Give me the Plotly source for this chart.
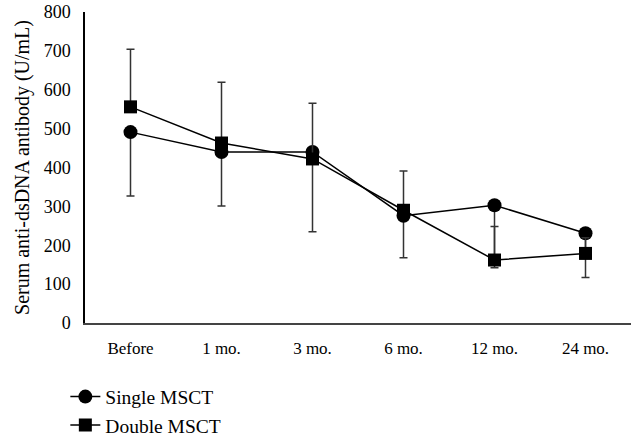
import plotly.graph_objects as go

categories = ["Before", "1 mo.", "3 mo.", "6 mo.", "12 mo.", "24 mo."]
single_vals = [491, 440, 440, 276, 303, 231]
single_err_minus = [164, 139, 205, 108, 161, 114]
double_vals = [556, 463, 422, 290, 162, 179]
double_err_plus = [148, 156, 143, 101, 86, 40]
zeros = [0, 0, 0, 0, 0, 0]

FONT = "Liberation Serif"

fig = go.Figure()
fig.add_trace(go.Scatter(
    x=categories, y=single_vals, name="Single MSCT", mode="lines+markers",
    line=dict(color="black", width=1.5),
    marker=dict(symbol="circle", size=14, color="black"),
    error_y=dict(type="data", symmetric=False, array=zeros, arrayminus=single_err_minus,
                 color="#333333", thickness=1.5, width=4),
))
fig.add_trace(go.Scatter(
    x=categories, y=double_vals, name="Double MSCT", mode="lines+markers",
    line=dict(color="black", width=1.5),
    marker=dict(symbol="square", size=13, color="black"),
    error_y=dict(type="data", symmetric=False, array=double_err_plus, arrayminus=zeros,
                 color="#333333", thickness=1.5, width=4),
))

fig.update_layout(
    width=633, height=444,
    margin=dict(l=85, r=2, t=12, b=121, autoexpand=False),
    paper_bgcolor="white", plot_bgcolor="white",
    font=dict(family=FONT, size=17, color="black"),
    showlegend=True,
    legend=dict(x=-0.036, y=-0.175, xanchor="left", yanchor="top",
                font=dict(family=FONT, size=19.5, color="black"),
                tracegroupgap=0, itemwidth=30, bgcolor="rgba(0,0,0,0)"),
    xaxis=dict(type="category", range=[-0.5, 5.5], showgrid=False, zeroline=False,
               showline=True, linecolor="#444444", linewidth=1.5, ticks="",
               ticklabelstandoff=9, tickfont=dict(family=FONT, size=17)),
    yaxis=dict(range=[0, 800], dtick=100, showgrid=False, zeroline=False,
               showline=True, linecolor="black", linewidth=1.5, ticks="",
               ticklabelstandoff=9, tickfont=dict(family=FONT, size=18),
               title=dict(text="Serum anti-dsDNA antibody (U/mL)", standoff=9,
                          font=dict(family=FONT, size=20))),
)

fig.write_html("out.html")
